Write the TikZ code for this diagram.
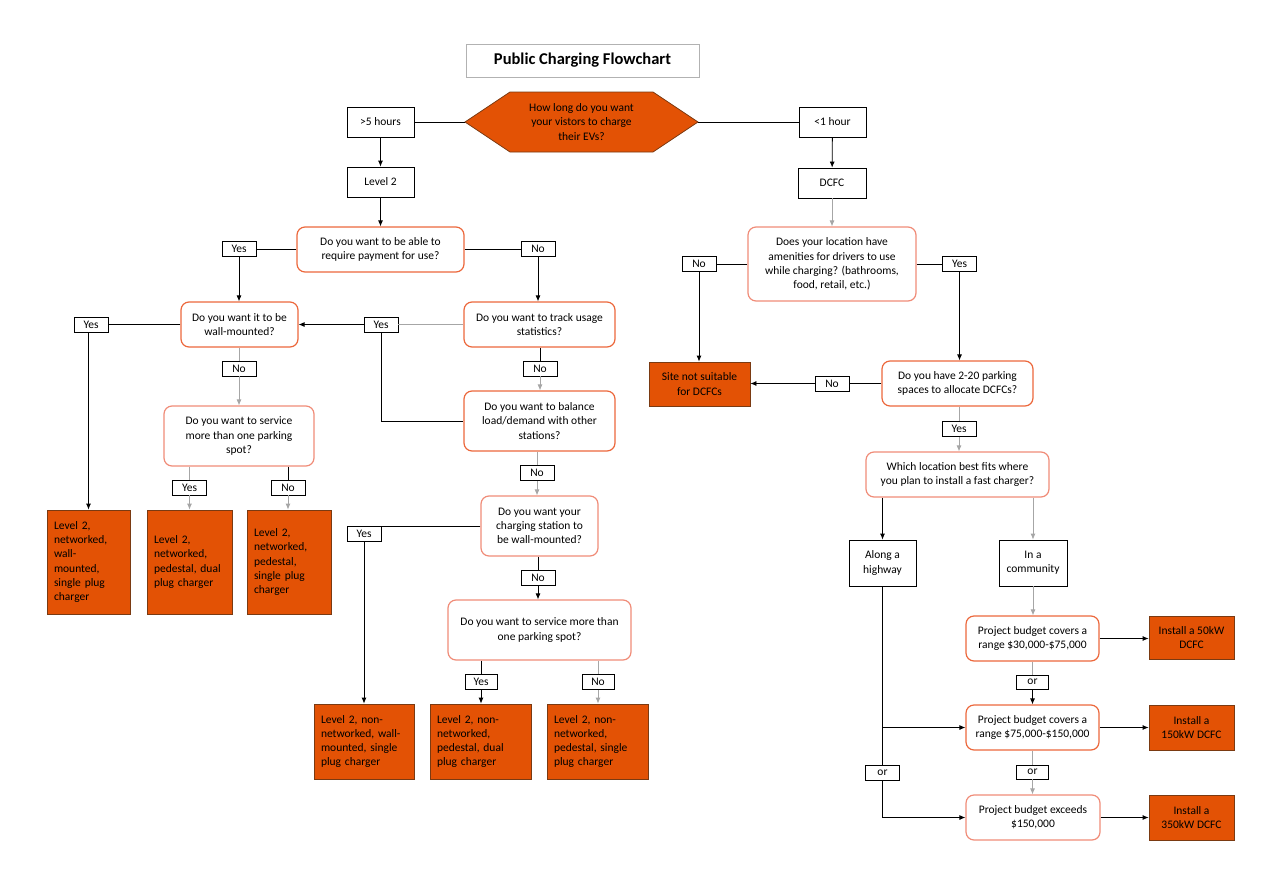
\documentclass[tikz,border=0pt]{standalone}
\usepackage{fontspec}
\setmainfont{Carlito}
\usetikzlibrary{arrows.meta}
\definecolor{evorange}{RGB}{227,82,5}
\definecolor{evedge}{RGB}{122,58,18}
\definecolor{qedge}{RGB}{236,104,60}
\definecolor{qedgelt}{RGB}{240,140,120}
\definecolor{wire}{RGB}{166,166,166}
\tikzset{
	qbox/.style={draw=qedge, line width=1.2pt, rounded corners=8pt, fill=white, align=center, inner sep=0pt},
	qboxlt/.style={qbox, draw=qedgelt},
	optbox/.style={draw, line width=0.8pt, fill=white, align=center, inner sep=0pt},
	pick/.style={draw, line width=0.8pt, fill=white, inner sep=0pt, minimum width=34, minimum height=15},
	result/.style={draw=evedge, fill=evorange, line width=0.8pt, align=left, inner xsep=7pt, inner ysep=0pt},
	install/.style={draw=evedge, fill=evorange, line width=0.8pt, align=center, inner sep=0pt},
	link/.style={line width=0.8pt, -{Latex[length=6pt,width=5pt]}},
	greylink/.style={link, draw=wire},
	wire/.style={line width=0.8pt, draw=wire},
}

\begin{document}
\begin{tikzpicture}[x=1pt, y=-1pt, font=\fontsize{11.5}{14.2}\selectfont, line width=0.8pt]
	\useasboundingbox (0,0) rectangle (1272,878);
	
	\node[draw=black!30, minimum width=233, minimum height=33, font=\bfseries\fontsize{16.5}{18}\selectfont] (title) at (582.5,60.5) {Public Charging Flowchart};
	
	\fill[evorange, draw=evedge] (465,122) -- (510,92) -- (653,92) -- (698,122) -- (653,152) -- (510,152) -- cycle;
	\node[minimum width=233, minimum height=60, align=center] (hex) at (581.5,122) {How long do you want\\your vistors to charge\\their EVs?};
	
	\node[optbox, minimum width=67, minimum height=30] (gt5) at (380.5,122) {>5 hours};
	\node[optbox, minimum width=67, minimum height=30] (lvl2) at (380.5,182) {Level 2};
	\node[optbox, minimum width=67, minimum height=30] (lt1) at (832.5,122) {<1 hour};
	\node[optbox, minimum width=68, minimum height=30] (dcfc) at (832,183) {DCFC};
	\node[optbox, minimum width=67, minimum height=46] (hw) at (882.5,563) {Along a\\highway};
	\node[optbox, minimum width=68, minimum height=46] (comm) at (1033,563) {In a\\community};
	
	\node[qbox, minimum width=167, minimum height=45] (q1) at (380.5,249.5) {Do you want to be able to\\require payment for use?};
	\node[qbox, minimum width=117, minimum height=45] (wall) at (239.5,324.5) {Do you want it to be\\wall-mounted?};
	\node[qboxlt, minimum width=150, minimum height=60] (svc) at (239,436) {Do you want to service\\more than one parking\\spot?};
	\node[qbox, minimum width=151, minimum height=45] (track) at (539.5,324.5) {Do you want to track usage\\statistics?};
	\node[qbox, minimum width=151, minimum height=60] (bal) at (539.5,421) {Do you want to balance\\load/demand with other\\stations?};
	\node[qboxlt, minimum width=117, minimum height=60] (wallb) at (539.5,526) {Do you want your\\charging station to\\be wall-mounted?};
	\node[qboxlt, minimum width=183, minimum height=60] (svcb) at (539.5,630) {Do you want to service more than\\one parking spot?};
	\node[qboxlt, minimum width=168, minimum height=74] (amen) at (832,264) {Does your location have\\amenities for drivers to use\\while charging? (bathrooms,\\food, retail, etc.)};
	\node[qbox, minimum width=151, minimum height=45] (park) at (957.5,383.5) {Do you have 2-20 parking\\spaces to allocate DCFCs?};
	\node[qboxlt, minimum width=183, minimum height=45] (where) at (957.5,474.5) {Which location best fits where\\you plan to install a fast charger?};
	\node[qbox, minimum width=133, minimum height=45] (budA) at (1032.5,638.5) {Project budget covers a\\range \$30,000-\$75,000};
	\node[qbox, minimum width=133, minimum height=45] (budB) at (1032.5,727.5) {Project budget covers a\\range \$75,000-\$150,000};
	\node[qboxlt, minimum width=134, minimum height=45] (budC) at (1033,817.5) {Project budget exceeds\\\$150,000};
	
	\node[result, text width=69, minimum height=104] (resA) at (88.5,562) {Level 2,\\networked,\\wall-\\mounted,\\single plug\\charger};
	\node[result, text width=71, minimum height=104] (resB) at (189.5,562) {Level 2,\\networked,\\pedestal, dual\\plug charger};
	\node[result, text width=70, minimum height=104] (resC) at (289,562) {Level 2,\\networked,\\pedestal,\\single plug\\charger};
	\node[result, text width=86, minimum height=75] (resD) at (364,741.5) {Level 2, non-\\networked, wall-\\mounted, single\\plug charger};
	\node[result, text width=87, minimum height=75] (resE) at (480.5,741.5) {Level 2, non-\\networked,\\pedestal, dual\\plug charger};
	\node[result, text width=87, minimum height=75] (resF) at (597.5,741.5) {Level 2, non-\\networked,\\pedestal, single\\plug charger};
	\node[install, minimum width=101, minimum height=44] (site) at (699.5,384) {Site not suitable\\for DCFCs};
	\node[install, minimum width=85, minimum height=43] (instA) at (1191.5,637.5) {Install a 50kW\\DCFC};
	\node[install, minimum width=85, minimum height=45] (instB) at (1191.5,727.5) {Install a\\150kW DCFC};
	\node[install, minimum width=85, minimum height=45] (instC) at (1191.5,817.5) {Install a\\350kW DCFC};
	
	\node[pick] (yA) at (239,249) {Yes};
	\node[pick] (nA) at (538,249) {No};
	\node[pick] (yB) at (91,324.5) {Yes};
	\node[pick] (yC) at (381,324.5) {Yes};
	\node[pick] (nB) at (239,368.5) {No};
	\node[pick] (yD) at (189.5,487.5) {Yes};
	\node[pick] (nC) at (288,487.5) {No};
	\node[pick] (nD) at (540,368.5) {No};
	\node[pick] (nE) at (537,473) {No};
	\node[pick] (yE) at (364,533.5) {Yes};
	\node[pick] (nF) at (538,577.5) {No};
	\node[pick, minimum width=32] (yF) at (481,682) {Yes};
	\node[pick, minimum width=32] (nG) at (598,682) {No};
	\node[pick] (nH) at (699,264) {No};
	\node[pick] (yG) at (959.5,264) {Yes};
	\node[pick] (nI) at (832,383.5) {No};
	\node[pick] (yH) at (959,429) {Yes};
	\node[pick, minimum width=32, minimum height=14] (orA) at (1032.5,682) {or};
	\node[pick, minimum width=32, minimum height=14] (orB) at (1032.5,772) {or};
	\node[pick, minimum width=34] (orC) at (882.5,772.5) {or};
	
	\draw (hex.west) -- (gt5.east);
	\draw (hex.east) -- (lt1.west);
	\draw[link] (gt5) -- (lvl2);
	\draw[link] (lvl2) -- (q1);
	\draw (q1.west) -- (q1.west -| yA.east);
	\draw[link] (yA.south) -- (yA.south |- wall.north);
	\draw (q1.east) -- (q1.east -| nA.west);
	\draw[link] (nA.south) -- (nA.south |- track.north);
	
	\draw (wall.west) -- (wall.west -| yB.east);
	\draw[link] (yB.south -| resA.north) -- (resA.north);
	\draw[wire] (wall.south -| nB.north) -- (nB.north);
	\draw[greylink] (nB.south) -- (nB.south |- svc.north);
	\draw[wire] (svc.south -| yD.north) -- (yD.north);
	\draw[greylink] (yD.south) -- (yD.south |- resB.north);
	\draw (svc.south -| nC.north) -- (nC.north);
	\draw[greylink] (nC.south) -- (nC.south |- resC.north);
	
	\draw[wire] (track.west) -- (track.west -| yC.east);
	\draw[link] (yC.west) -- (yC.west -| wall.east);
	\draw (yC.south) |- (bal.west);
	\draw (track.south -| nD.north) -- (nD.north);
	\draw[greylink] (nD.south) -- (nD.south |- bal.north);
	\draw[wire] (bal.south -| nE.north) -- (nE.north);
	\draw[greylink] (nE.south) -- (nE.south |- wallb.north);
	\draw (wallb.west) -- (wallb.west -| yE.east);
	\draw[link] (yE.south) -- (yE.south |- resD.north);
	\draw (wallb.south -| nF.north) -- (nF.north);
	\draw[link] (nF.south) -- (nF.south |- svcb.north);
	\draw (svcb.south -| yF.north) -- (yF.north);
	\draw[link] (yF.south) -- (yF.south |- resE.north);
	\draw[wire] (svcb.south -| nG.north) -- (nG.north);
	\draw[greylink] (nG.south) -- (nG.south |- resF.north);
	
	\draw[link] (lt1) -- (dcfc);
	\draw[greylink] (dcfc) -- (amen);
	\draw (amen.west) -- (amen.west -| nH.east);
	\draw[link] (nH.south) -- (nH.south |- site.north);
	\draw (amen.east) -- (amen.east -| yG.west);
	\draw[link] (yG.south) -- (yG.south |- park.north);
	\draw (park.west) -- (park.west -| nI.east);
	\draw[link] (nI.west) -- (nI.west -| site.east);
	\draw[wire] (park.south -| yH.north) -- (yH.north);
	\draw[greylink] (yH.south) -- (yH.south |- where.north);
	\draw[link] (where.south -| hw.north) -- (hw.north);
	\draw[greylink] (where.south -| comm.north) -- (comm.north);
	\draw[greylink] (comm) -- (budA.north -| comm.south);
	\draw[wire] (budA.south -| orA.north) -- (orA.north);
	\draw[link] (orA.south) -- (orA.south |- budB.north);
	\draw[wire] (budB.south -| orB.north) -- (orB.north);
	\draw[greylink] (orB.south) -- (orB.south |- budC.north);
	\draw[link] (budA.east) -- (budA.east -| instA.west);
	\draw[link] (budB.east) -- (budB.east -| instB.west);
	\draw[link] (budC.east) -- (budC.east -| instC.west);
	\draw[link] (hw.south) |- (budB.west);
	\draw (hw.south) -- (orC.north);
	\draw[link] (orC.south) |- (budC.west);
\end{tikzpicture}
\end{document}
